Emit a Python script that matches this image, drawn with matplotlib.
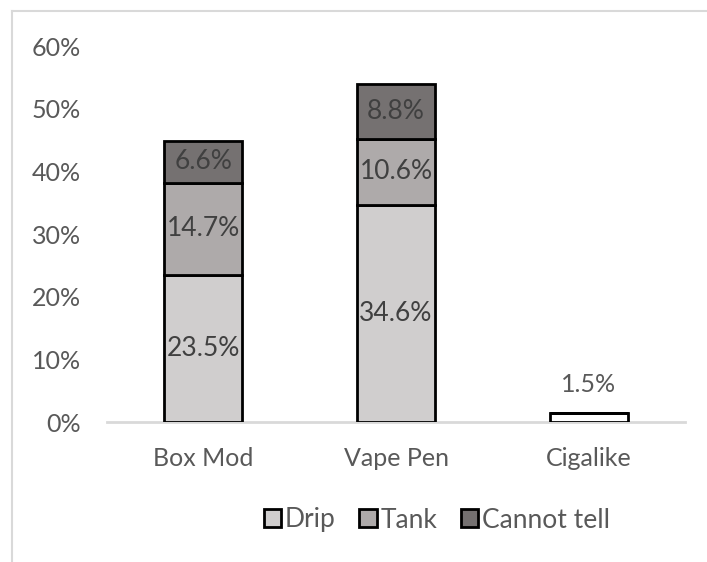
import matplotlib
matplotlib.use("Agg")
import matplotlib.pyplot as plt
from matplotlib.patches import Patch
from matplotlib.lines import Line2D

categories = ["Box Mod", "Vape Pen", "Cigalike"]
drip = [23.5, 34.6, 1.5]
tank = [14.7, 10.6, 0.0]
cannot_tell = [6.6, 8.8, 0.0]
y_ticks = [0, 10, 20, 30, 40, 50, 60]
y_tick_labels = ["0%", "10%", "20%", "30%", "40%", "50%", "60%"]

plt.rcParams["font.family"] = ["Lato", "DejaVu Sans"]

fig = plt.figure(figsize=(7.07, 5.62), dpi=100)
ax = fig.add_axes([107 / 707, 1 - 422 / 562, (685 - 107) / 707, (422 - 46) / 562])

c_drip, c_tank, c_cannot = "#d0cece", "#aeaaaa", "#757171"
x = list(range(len(categories)))
w = 0.405

drip_faces = [c_drip, c_drip, "white"]
ax.bar(x, drip, w, color=drip_faces, edgecolor="black", linewidth=2, zorder=3)
ax.bar(x, tank, w, bottom=drip, color=c_tank, edgecolor="black", linewidth=2, zorder=3)
bottom2 = [a + b for a, b in zip(drip, tank)]
ax.bar(x, cannot_tell, w, bottom=bottom2, color=c_cannot, edgecolor="black", linewidth=2, zorder=3)

lab_kw = dict(ha="center", va="center", fontsize=19, color="#404040", zorder=4)
for i in range(len(categories)):
    if tank[i] > 0:
        ax.text(x[i], drip[i] / 2, f"{drip[i]:.1f}%", **lab_kw)
        ax.text(x[i], drip[i] + tank[i] / 2, f"{tank[i]:.1f}%", **lab_kw)
        ax.text(x[i], bottom2[i] + cannot_tell[i] / 2, f"{cannot_tell[i]:.1f}%", **lab_kw)
    else:
        ax.text(x[i], drip[i] + 4.5, f"{drip[i]:.1f}%", ha="center", va="center",
                fontsize=18, color="#595959", zorder=4)

ax.set_xlim(-0.5, 2.5)
ax.set_ylim(0, 60)
ax.set_yticks(y_ticks)
ax.set_yticklabels(y_tick_labels)
ax.set_xticks(x)
ax.set_xticklabels(categories)
ax.tick_params(axis="both", length=0, labelsize=18, labelcolor="#595959")
ax.tick_params(axis="y", pad=19)
ax.tick_params(axis="x", pad=18)
for side in ["top", "right", "left"]:
    ax.spines[side].set_visible(False)
ax.spines["bottom"].set_color("#d9d9d9")
ax.spines["bottom"].set_linewidth(2)
ax.spines["bottom"].set_zorder(2)

handles = [Patch(facecolor=c, edgecolor="black", linewidth=2) for c in (c_drip, c_tank, c_cannot)]
leg = fig.legend(handles, ["Drip", "Tank", "Cannot tell"], loc="center",
                 bbox_to_anchor=(437 / 707, 1 - 520 / 562), ncol=3, frameon=False,
                 fontsize=19, handlelength=0.65, handleheight=0.65, handletextpad=0.15,
                 columnspacing=0.9)
for t in leg.get_texts():
    t.set_color("#595959")

# outer chart frame
fig.add_artist(Line2D([12 / 707, 12 / 707], [0, 1 - 11 / 562], color="#d9d9d9", linewidth=1.5))
fig.add_artist(Line2D([12 / 707, 1], [1 - 11 / 562, 1 - 11 / 562], color="#d9d9d9", linewidth=1.5))

fig.savefig("out.png", dpi=100)
